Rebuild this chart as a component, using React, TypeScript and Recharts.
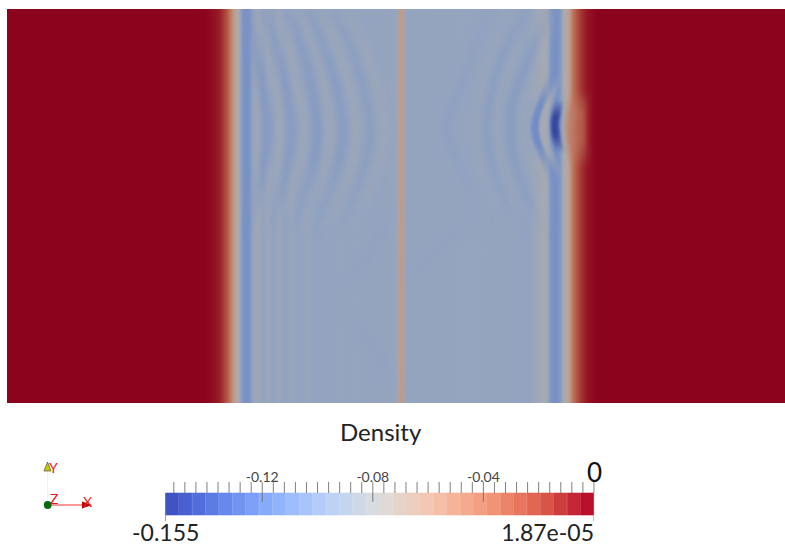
import {
  Area,
  Bar,
  BarChart,
  Cell,
  ComposedChart,
  Line,
  ReferenceLine,
  XAxis,
  YAxis,
} from "recharts";

const WIDTH = 785;
const HEIGHT = 547;
const SHADE = 0.78; // the slice is lit, the colour bar is not

// cool to warm map of the colour bar
const colorStops = [
  [59, 76, 192],
  [98, 130, 234],
  [141, 176, 254],
  [184, 208, 249],
  [221, 221, 221],
  [245, 196, 173],
  [244, 154, 123],
  [222, 96, 77],
  [180, 4, 38],
];
const rangeMin = -0.155;
const rangeMax = 0.0000187;

// density across the slice, mesh x against value
const bandX = [
  0, 198, 208, 213, 218, 221, 224, 227, 231, 234, 237, 241, 243, 246, 251, 256, 261, 266, 272,
  278, 285, 292, 300, 310, 320, 340, 360, 380, 390.5, 391.5, 392.5, 396, 397, 398, 420, 500, 510,
  520, 528, 534, 538, 541, 544, 549, 553, 556, 558, 561, 563, 565, 568, 571, 575, 580, 590, 778,
];
const bandDensity = [
  0, 0, -0.004, -0.008, -0.018, -0.028, -0.043, -0.06, -0.075, -0.098, -0.11, -0.11, -0.106,
  -0.093, -0.086, -0.095, -0.089, -0.095, -0.09, -0.095, -0.091, -0.095, -0.092, -0.095, -0.093,
  -0.094, -0.093, -0.093, -0.092, -0.07, -0.062, -0.062, -0.066, -0.093, -0.093, -0.094, -0.093,
  -0.096, -0.09, -0.084, -0.082, -0.09, -0.108, -0.112, -0.105, -0.085, -0.075, -0.07, -0.058,
  -0.043, -0.03, -0.02, -0.012, -0.005, 0, 0,
];

// wave fronts, mesh y shared by the long arcs
const arcY = [394, 353, 313, 275, 238, 203, 168];
const leftDark1 = [243, 249, 256, 261, 257, 250, 244];
const leftLight1 = [252, 262, 269, 273, 269, 261, 254];
const leftDark2 = [258, 270, 280, 285, 281, 272, 262];
const leftLight2 = [270, 283, 291, 296, 292, 284, 273];
const leftDark3 = [280, 296, 305, 310, 306, 296, 284];
const leftLight3 = [290, 309, 318, 323, 319, 308, 294];
const leftDark4 = [300, 318, 330, 336, 331, 320, 305];
const leftLight4 = [312, 332, 344, 350, 345, 333, 317];
const leftDark5 = [325, 345, 357, 363, 358, 346, 330];
const leftLight5 = [338, 358, 370, 376, 371, 359, 343];

const rightDark1 = [482, 466, 453, 440, 452, 465, 480];
const rightLight1 = [505, 486, 475, 471, 475, 487, 503];
const rightDark2 = [520, 498, 485, 480, 485, 497, 516];
const rightLight2 = [536, 512, 496, 491, 497, 510, 530];
const rightDark3 = [543, 526, 509, 503, 508, 520, 540];
const rightLight3 = [545, 538, 522, 516, 522, 536, 545];

const nearY = [330, 310, 290, 275, 260, 240, 222];
const nearDark = [545, 538, 531, 528, 531, 539, 545];
const nearLight = [551, 546, 538, 536, 539, 547, 552];

const lensY = [303, 292, 282, 275, 266, 258, 250];
const lensX = [553, 550, 548, 548, 549, 551, 554];

const bulgeY = [312, 297, 285, 275, 262, 250, 236];
const bulgeInnerX = [569, 566, 565, 564, 565, 566, 569];
const bulgeOuterX = [575, 573, 572, 572, 572, 573, 575];

// faint crossing waves in the lower half
const crossLeftY = [105, 150, 198];
const crossLeftX = [333, 362, 391];
const crossRightY = [120, 165, 190];
const crossRightX = [398, 440, 470];
const crossLowY = [95, 50, 12];
const crossLowX = [338, 370, 391];

const plateTop = [
  { x: 0, top: 394 },
  { x: 778, top: 394 },
];

// colour bar
const barSegments = [
  -0.1526, -0.1477, -0.1429, -0.138, -0.1332, -0.1284, -0.1235, -0.1187, -0.1138, -0.109, -0.1041,
  -0.0993, -0.0944, -0.0896, -0.0847, -0.0799, -0.075, -0.0702, -0.0654, -0.0605, -0.0557, -0.0508,
  -0.046, -0.0411, -0.0363, -0.0314, -0.0266, -0.0217, -0.0169, -0.012, -0.0072, -0.0024,
];
const barTicks = [
  -0.152, -0.148, -0.144, -0.14, -0.136, -0.132, -0.128, -0.124, -0.12, -0.116, -0.112, -0.108,
  -0.104, -0.1, -0.096, -0.092, -0.088, -0.084, -0.08, -0.076, -0.072, -0.068, -0.064, -0.06,
  -0.056, -0.052, -0.048, -0.044, -0.04, -0.036, -0.032, -0.028, -0.024, -0.02, -0.016, -0.012,
  -0.008, -0.004, 0,
];
const labelledTicks = [-0.12, -0.08, -0.04];

function densityColor(value: number, shade = 1) {
  const t = Math.min(1, Math.max(0, (value - rangeMin) / (rangeMax - rangeMin)));
  const pos = t * (colorStops.length - 1);
  const i = Math.min(colorStops.length - 2, Math.floor(pos));
  const f = pos - i;
  const rgb = colorStops[i].map((c, k) => Math.round((c + (colorStops[i + 1][k] - c) * f) * shade));
  return `rgb(${rgb[0]},${rgb[1]},${rgb[2]})`;
}

function toPoints(xs: number[], ys: number[]) {
  return xs.map((x, i) => ({ x, y: ys[i] }));
}

type Arc = {
  id: string;
  xs: number[];
  ys: number[];
  density: number;
  width: number;
  fade: number[]; // opacity along the arc, top end to bottom end
  blur: string;
};

const fadeOffsets = [0, 0.3, 0.65, 1];
const longFade = [0.3, 0.65, 0.65, 0];
const outerFade = [0.25, 0.5, 0.5, 0];
const crossFade = [0, 0.3, 0.3, 0];
const lensFade = [0, 1, 1, 0];

const arcs: Arc[] = [
  { id: "cl", xs: crossLeftX, ys: crossLeftY, density: -0.101, width: 10, fade: crossFade, blur: "soft" },
  { id: "cr", xs: crossRightX, ys: crossRightY, density: -0.101, width: 10, fade: crossFade, blur: "soft" },
  { id: "cw", xs: crossLowX, ys: crossLowY, density: -0.101, width: 10, fade: crossFade, blur: "soft" },
  { id: "ld1", xs: leftDark1, ys: arcY, density: -0.108, width: 10, fade: longFade, blur: "soft" },
  { id: "ll1", xs: leftLight1, ys: arcY, density: -0.086, width: 9, fade: longFade, blur: "soft" },
  { id: "ld2", xs: leftDark2, ys: arcY, density: -0.106, width: 10, fade: longFade, blur: "soft" },
  { id: "ll2", xs: leftLight2, ys: arcY, density: -0.085, width: 9, fade: longFade, blur: "soft" },
  { id: "ld3", xs: leftDark3, ys: arcY, density: -0.106, width: 10, fade: longFade, blur: "soft" },
  { id: "ll3", xs: leftLight3, ys: arcY, density: -0.085, width: 9, fade: longFade, blur: "soft" },
  { id: "ld4", xs: leftDark4, ys: arcY, density: -0.104, width: 10, fade: longFade, blur: "soft" },
  { id: "ll4", xs: leftLight4, ys: arcY, density: -0.085, width: 9, fade: longFade, blur: "soft" },
  { id: "ld5", xs: leftDark5, ys: arcY, density: -0.103, width: 10, fade: outerFade, blur: "soft" },
  { id: "ll5", xs: leftLight5, ys: arcY, density: -0.086, width: 9, fade: outerFade, blur: "soft" },
  { id: "rd1", xs: rightDark1, ys: arcY, density: -0.1, width: 10, fade: outerFade, blur: "soft" },
  { id: "rl1", xs: rightLight1, ys: arcY, density: -0.088, width: 9, fade: outerFade, blur: "soft" },
  { id: "rd2", xs: rightDark2, ys: arcY, density: -0.103, width: 10, fade: outerFade, blur: "soft" },
  { id: "rl2", xs: rightLight2, ys: arcY, density: -0.087, width: 9, fade: outerFade, blur: "soft" },
  { id: "rd3", xs: rightDark3, ys: arcY, density: -0.106, width: 10, fade: outerFade, blur: "soft" },
  { id: "rl3", xs: rightLight3, ys: arcY, density: -0.085, width: 8, fade: outerFade, blur: "soft" },
  { id: "nd", xs: nearDark, ys: nearY, density: -0.114, width: 8, fade: lensFade, blur: "fine" },
  { id: "nl", xs: nearLight, ys: nearY, density: -0.083, width: 6, fade: lensFade, blur: "fine" },
  { id: "lens", xs: lensX, ys: lensY, density: -0.15, width: 8, fade: lensFade, blur: "fine" },
  { id: "bo", xs: bulgeOuterX, ys: bulgeY, density: -0.028, width: 13, fade: lensFade, blur: "soft" },
  { id: "bi", xs: bulgeInnerX, ys: bulgeY, density: -0.042, width: 8, fade: lensFade, blur: "soft" },
];

const textStyle: React.CSSProperties = {
  position: "absolute",
  fontFamily: "Lato, sans-serif",
  color: "#222",
  whiteSpace: "nowrap",
  lineHeight: 1,
};

function Slice() {
  return (
    <ComposedChart
      width={WIDTH}
      height={HEIGHT}
      data={plateTop}
      margin={{ top: 9, right: 0, bottom: 144, left: 7 }}
      style={{ position: "absolute", left: 0, top: 0 }}
    >
      <defs>
        <linearGradient id="plate" x1="0" y1="0" x2="1" y2="0">
          {bandX.map((x, i) => (
            <stop key={x} offset={x / 778} stopColor={densityColor(bandDensity[i], SHADE)} />
          ))}
        </linearGradient>
        {arcs.map((a) => (
          <linearGradient key={a.id} id={a.id} x1="0" y1="0" x2="0" y2="1">
            {fadeOffsets.map((offset, i) => (
              <stop
                key={offset}
                offset={offset}
                stopColor={densityColor(a.density, SHADE)}
                stopOpacity={a.fade[i]}
              />
            ))}
          </linearGradient>
        ))}
        <filter id="soft" filterUnits="userSpaceOnUse" x="0" y="0" width={WIDTH} height={HEIGHT}>
          <feGaussianBlur stdDeviation="3" />
        </filter>
        <filter id="fine" filterUnits="userSpaceOnUse" x="0" y="0" width={WIDTH} height={HEIGHT}>
          <feGaussianBlur stdDeviation="1.6" />
        </filter>
      </defs>
      <XAxis type="number" dataKey="x" domain={[0, 778]} hide allowDataOverflow />
      <YAxis type="number" domain={[0, 394]} hide allowDataOverflow width={0} />
      <Area
        dataKey="top"
        type="linear"
        fill="url(#plate)"
        fillOpacity={1}
        stroke="none"
        isAnimationActive={false}
      />
      {arcs.map((a) => (
        <Line
          key={a.id}
          data={toPoints(a.xs, a.ys)}
          dataKey="y"
          type="natural"
          stroke={`url(#${a.id})`}
          strokeWidth={a.width}
          dot={false}
          filter={`url(#${a.blur})`}
          isAnimationActive={false}
        />
      ))}
    </ComposedChart>
  );
}

function ColorBar() {
  const rows = barSegments.map((density, i) => ({ segment: i, density, fill: 1 }));
  return (
    <BarChart
      width={WIDTH}
      height={HEIGHT}
      data={rows}
      barCategoryGap={0}
      margin={{ top: 463, right: 191, bottom: 32, left: 165.5 }}
      style={{ position: "absolute", left: 0, top: 0 }}
    >
      <XAxis xAxisId="segments" dataKey="segment" hide />
      <XAxis
        xAxisId="values"
        dataKey="density"
        type="number"
        orientation="top"
        domain={[rangeMin, rangeMax]}
        allowDataOverflow
        ticks={barTicks}
        interval={0}
        height={30}
        axisLine={false}
        tickSize={11}
        tickMargin={0}
        tickLine={{ stroke: "#808080" }}
        tick={{ fontSize: 14, fill: "#444", fontFamily: "Lato, sans-serif" }}
        tickFormatter={(v: number) => (labelledTicks.includes(v) ? String(v) : "")}
      />
      <YAxis type="number" domain={[0, 1]} hide width={0} />
      <Bar xAxisId="segments" dataKey="fill" isAnimationActive={false}>
        {rows.map((r) => (
          <Cell
            key={r.segment}
            fill={densityColor(r.density)}
            stroke={densityColor(r.density)}
            strokeWidth={0.6}
          />
        ))}
      </Bar>
      {labelledTicks.map((v) => (
        <ReferenceLine
          key={v}
          xAxisId="values"
          segment={[
            { x: v, y: 1 },
            { x: v, y: 0.6 },
          ]}
          stroke="#777"
        />
      ))}
    </BarChart>
  );
}

function Triad() {
  return (
    <svg
      width={WIDTH}
      height={HEIGHT}
      style={{ position: "absolute", left: 0, top: 0, pointerEvents: "none" }}
    >
      <line x1={47.5} y1={505} x2={47.5} y2={470} stroke="#ffff80" strokeWidth={1} />
      <polygon points="47.5,462 44,471 51,471" fill="#c8c810" stroke="#3a3a10" strokeWidth={0.6} />
      <line x1={47.5} y1={505} x2={84} y2={505} stroke="#f03030" strokeWidth={1} />
      <polygon points="92,505 82,501.5 82,508.5" fill="#b00808" />
      <circle cx={47.7} cy={505} r={3.9} fill="#066a10" />
      <g fontFamily="Lato, sans-serif" fontSize={14} fill="#f01818">
        <text x={49} y={473}>Y</text>
        <text x={50} y={504}>Z</text>
        <text x={83} y={507}>X</text>
      </g>
      <line x1={165.5} y1={515} x2={165.5} y2={521} stroke="#8aa0e0" />
      <line x1={593.5} y1={515} x2={593.5} y2={521} stroke="#eab0b8" />
    </svg>
  );
}

export default function App() {
  return (
    <div style={{ position: "absolute", left: 0, top: 0, width: WIDTH, height: HEIGHT, background: "#fff" }}>
      <Slice />
      <ColorBar />
      <Triad />
      <div style={{ ...textStyle, left: 340, top: 420, fontSize: 24 }}>Density</div>
      <div style={{ ...textStyle, left: 587, top: 459, fontSize: 26, color: "#111" }}>0</div>
      <div style={{ ...textStyle, left: 132, top: 521, fontSize: 23 }}>-0.155</div>
      <div style={{ ...textStyle, right: WIDTH - 594, top: 521, fontSize: 23 }}>1.87e-05</div>
    </div>
  );
}
